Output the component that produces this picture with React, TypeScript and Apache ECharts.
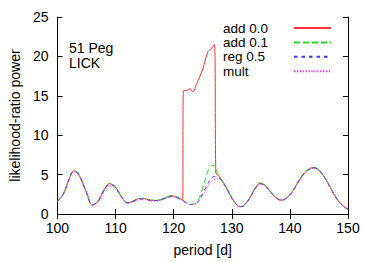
import React, { useEffect, useRef } from "react";
import * as echarts from "echarts";

const FONT = "Liberation Sans, Arial, Helvetica, sans-serif";

const seriesNames = ["add 0.0", "add 0.1", "reg 0.5", "mult"];
const xTicks = [100, 110, 120, 130, 140, 150];
const yTicks = [0, 5, 10, 15, 20, 25];

// shared period grid for add 0.1, reg 0.5, mult
const periods = [100, 101, 102, 102.8, 103.5, 104, 105, 106, 107, 108, 109, 110, 111, 112, 113, 114, 115, 116, 117, 118, 119, 119.7, 120.5, 121.5, 122, 123, 124, 125, 125.5, 126, 126.5, 127, 127.5, 128, 129, 130, 131, 131.6, 132, 133, 134, 134.9, 135.5, 136, 137, 138, 138.6, 139, 140, 141, 142, 143, 144.1, 145, 146, 147, 148, 149, 150];

const reg05 = [1.6, 2.5, 4.4, 5.45, 5.15, 4.5, 2.7, 1.15, 1.6, 3.0, 3.8, 3.35, 2.2, 1.42, 1.6, 1.9, 1.9, 1.72, 1.7, 1.85, 2.15, 2.25, 2.1, 1.75, 1.5, 1.2, 1.4, 2.6, 3.3, 4.0, 4.55, 4.75, 4.7, 4.45, 3.4, 2.0, 1.05, 0.95, 1.02, 1.9, 3.2, 3.85, 3.7, 3.4, 2.5, 1.85, 1.75, 1.82, 2.4, 3.5, 4.7, 5.5, 5.85, 5.55, 4.6, 3.3, 2.0, 1.1, 0.6];

const add01 = [1.62, 2.55, 4.45, 5.5, 5.2, 4.55, 2.75, 1.15, 1.65, 3.1, 3.9, 3.45, 2.25, 1.45, 1.65, 1.98, 1.98, 1.78, 1.75, 1.9, 2.2, 2.35, 2.2, 1.8, 1.55, 1.25, 1.55, 3.3, 4.6, 5.6, 6.1, 6.2, 5.3, 4.6, 3.45, 2.05, 1.05, 0.95, 1.05, 1.95, 3.3, 3.95, 3.8, 3.5, 2.55, 1.9, 1.78, 1.85, 2.45, 3.6, 4.8, 5.6, 5.95, 5.6, 4.65, 3.35, 2.05, 1.15, 0.6];

const multV = [1.58, 2.45, 4.3, 5.35, 5.05, 4.4, 2.65, 1.12, 1.55, 2.85, 3.6, 3.2, 2.1, 1.35, 1.55, 1.8, 1.82, 1.65, 1.62, 1.78, 2.05, 2.15, 2.05, 1.7, 1.45, 1.18, 1.35, 2.4, 3.0, 3.7, 4.2, 4.35, 4.45, 4.35, 3.35, 1.95, 1.02, 0.92, 1.0, 1.85, 3.15, 3.8, 3.65, 3.35, 2.45, 1.82, 1.72, 1.8, 2.35, 3.45, 4.65, 5.45, 5.8, 5.5, 4.55, 3.25, 1.95, 1.08, 0.58];

// add 0.0 has its own periods (jump between 121.6 and 127.2)
const periodsAdd00 = [100, 101, 102, 102.8, 103.5, 104, 105, 106, 107, 108, 109, 110, 111, 112, 113, 114, 115, 116, 117, 118, 119, 119.7, 120.5, 121, 121.55, 121.65, 122.3, 122.8, 123.3, 124, 125, 125.9, 126.5, 127, 127.25, 127.5, 128, 129, 130, 131, 131.6, 132, 133, 134, 134.9, 135.5, 136, 137, 138, 138.6, 139, 140, 141, 142, 143, 144.1, 145, 146, 147, 148, 149, 150];

const add00 = [1.6, 2.55, 4.45, 5.5, 5.2, 4.55, 2.75, 1.15, 1.62, 3.05, 3.85, 3.4, 2.22, 1.43, 1.62, 1.95, 1.95, 1.75, 1.72, 1.88, 2.18, 2.3, 2.15, 1.95, 1.8, 15.6, 15.7, 15.9, 15.5, 16.6, 18.4, 20.6, 21.0, 21.5, 5.2, 5.0, 4.6, 3.45, 2.05, 1.05, 0.95, 1.03, 1.92, 3.25, 3.9, 3.75, 3.45, 2.5, 1.88, 1.76, 1.84, 2.42, 3.55, 4.75, 5.55, 5.9, 5.58, 4.62, 3.32, 2.02, 1.12, 0.6];

const colors = ["#ff3030", "#20e020", "#3535ff", "#ff30ff"];
const dashes: any[] = ["solid", [6, 3], [3.5, 4], [1.3, 1.6]];

function zip(xs: number[], ys: number[]) {
  return xs.map((x, i) => [x, ys[i]]);
}

export default function App() {
  const ref = useRef<HTMLDivElement>(null);
  useEffect(() => {
    if (!ref.current) return;
    const chart = echarts.init(ref.current, undefined, { renderer: "svg" });
    const datasets = [zip(periodsAdd00, add00), zip(periods, add01), zip(periods, reg05), zip(periods, multV)];
    const axisCommon = {
      axisLine: { show: true, lineStyle: { color: "#000", width: 1 } },
      axisTick: { show: true, inside: true, length: 5, lineStyle: { color: "#000" } },
      splitLine: { show: false },
    };
    chart.setOption({
      animation: false,
      backgroundColor: "#fff",
      grid: { left: 53, right: 26, top: 17, bottom: 46 },
      legend: {
        orient: "vertical",
        left: 223,
        top: 21,
        align: "right",
        itemWidth: 37,
        itemHeight: 14,
        itemGap: 0.4,
        padding: 0,
        data: seriesNames,
        itemStyle: { opacity: 0, borderWidth: 0 },
        formatter: (name: string) => `{t|${name}}`,
        textStyle: {
          color: "#000",
          rich: { t: { width: 66, height: 13, lineHeight: 13, align: "left", fontSize: 13.5, fontFamily: FONT, color: "#000" } },
        },
      },
      graphic: [
        {
          type: "text",
          left: 69,
          top: 40,
          style: { text: "51 Peg\nLICK", fontSize: 14, lineHeight: 15, fontFamily: FONT, fill: "#000" },
        },
      ],
      xAxis: [
        {
          type: "value",
          min: xTicks[0],
          max: xTicks[xTicks.length - 1],
          interval: 10,
          name: "period [d]",
          nameLocation: "middle",
          nameGap: 29,
          nameTextStyle: { fontSize: 14, fontFamily: FONT, color: "#000", fontWeight: "normal" },
          axisLabel: { fontSize: 14, fontFamily: FONT, color: "#000", margin: 7 },
          ...axisCommon,
        },
        {
          type: "value",
          position: "top",
          min: xTicks[0],
          max: xTicks[xTicks.length - 1],
          interval: 10,
          axisLabel: { show: false },
          ...axisCommon,
        },
      ],
      yAxis: [
        {
          type: "value",
          min: yTicks[0],
          max: yTicks[yTicks.length - 1],
          interval: 5,
          name: "likelihood-ratio power",
          nameLocation: "middle",
          nameGap: 35,
          nameTextStyle: { fontSize: 14, fontFamily: FONT, color: "#000", fontWeight: "normal" },
          axisLabel: { fontSize: 14, fontFamily: FONT, color: "#000", margin: 9 },
          ...axisCommon,
        },
        {
          type: "value",
          position: "right",
          min: yTicks[0],
          max: yTicks[yTicks.length - 1],
          interval: 5,
          axisLabel: { show: false },
          ...axisCommon,
        },
      ],
      series: seriesNames.map((name, i) => ({
        name,
        type: "line",
        data: datasets[i],
        symbol: "none",
        smooth: 0.35,
        z: 2 + i,
        lineStyle: { color: colors[i], width: 1, type: dashes[i] },
        itemStyle: { color: colors[i] },
      })),
    });
    return () => chart.dispose();
  }, []);
  return <div ref={ref} style={{ width: 374, height: 262, position: "absolute", left: 0, top: 0 }} />;
}
